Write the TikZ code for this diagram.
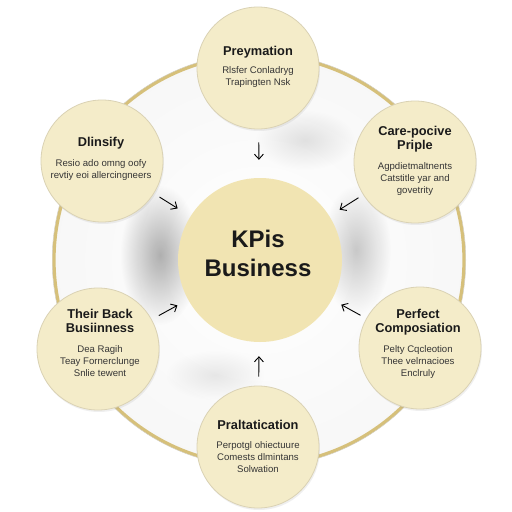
\documentclass[tikz,border=0pt]{standalone}
\usepackage{fontspec}
\setmainfont{Liberation Sans}
\usetikzlibrary{arrows.meta,fadings,shadows}
\definecolor{satfill}{HTML}{F4ECC9}
\definecolor{satline}{HTML}{DAD2B4}
\definecolor{cenfill}{HTML}{F1E4B2}
\definecolor{ringgold}{HTML}{D6C07A}
\definecolor{txtdark}{HTML}{1A1A1A}
\definecolor{txtbody}{HTML}{353535}
\tikzfading[name=softfade, inner color=transparent!0, outer color=transparent!100]
\tikzset{
  sat/.style={circle, fill=satfill, draw=satline, line width=0.8pt, minimum size=122pt, inner sep=0pt,
    drop shadow={opacity=0.12, shadow xshift=1pt, shadow yshift=-2pt}},
  cen/.style={circle, fill=cenfill, minimum size=164pt, inner sep=0pt},
  ttl/.style={font=\fontsize{12.8}{14}\selectfont\bfseries, text=txtdark, align=center, inner sep=0pt},
  bdy/.style={font=\fontsize{9.6}{12}\selectfont, text=txtbody, align=center, inner sep=0pt},
  big/.style={font=\fontsize{24}{29}\selectfont\bfseries, text=txtdark, align=center, inner sep=0pt},
  arr/.style={draw=black, line width=0.9pt, -{Straight Barb[length=5pt,width=9pt]}},
  blob/.style={fill=black, path fading=softfade}
}
\begin{document}
\begin{tikzpicture}[x=1pt,y=-1pt]
\useasboundingbox (0,0) rectangle (512,512);
\fill[white] (0,0) rectangle (512,512);
% ring interior
\shade[inner color=white, outer color=black!3] (259,260) circle[radius=205];
% soft shadows
\fill[blob, opacity=0.30] (160,255) ellipse[x radius=40, y radius=70];
\fill[blob, opacity=0.20] (356,250) ellipse[x radius=35, y radius=65];
\fill[blob, opacity=0.10] (305,140) ellipse[x radius=50, y radius=30];
\fill[blob, opacity=0.08] (215,375) ellipse[x radius=50, y radius=25];
% ring
\draw[ringgold, line width=3.2pt] (259,260) circle[radius=205];
\draw[ringgold!60!black!40, line width=0.4pt] (259,260) circle[radius=206.8];
% center
\node[cen] (c) at (260,260) {};
\node[big] (ctxt) at (258,253) {KPis\\Business};
% satellites
\node[sat] (t) at (258,68) {};
\node[sat] (ul) at (102,161) {};
\node[sat] (ur) at (415,162) {};
\node[sat] (ll) at (98,349) {};
\node[sat] (lr) at (420,348) {};
\node[sat] (b) at (258,447) {};
% texts
\node[ttl] (t1) at (258,52) {Preymation};
\node[bdy] (t2) at (258,77.5) {Rlsfer Conladryg\\Trapingten Nsk};
\node[ttl] (ul1) at (101,143) {Dlinsify};
\node[bdy] (ul2) at (101,170) {Resio ado omng oofy\\revtiy eoi allercingneers};
\node[ttl] (ur1) at (415,139) {Care-pocive\\Priple};
\node[bdy] (ur2) at (415,179) {Agpdietmaltnents\\Catstitle yar and\\govetrity};
\node[ttl] (ll1) at (100,321) {Their Back\\Busiinness};
\node[bdy] (ll2) at (100,361.5) {Dea Ragih\\Teay Fornerclunge\\Snlie tewent};
\node[ttl] (lr1) at (418,322) {Perfect\\Composiation};
\node[bdy] (lr2) at (418,362) {Pelty Cqcleotion\\Thee velrnacioes\\Enclruly};
\node[ttl] (b1) at (258,425) {Praltatication};
\node[bdy] (b2) at (258,457.5) {Perpotgl ohiectuure\\Comests dlmintans\\Solwation};
% arrows
\draw[arr, shorten <=13pt, shorten >=18pt] (t) -- (c);
\draw[arr, shorten <=6.5pt, shorten >=15pt] (ul) -- (c);
\draw[arr, shorten <=5.5pt, shorten >=12pt] (ur) -- (c);
\draw[arr, shorten <=8pt, shorten >=12pt] (ll) -- (c);
\draw[arr, shorten <=6.5pt, shorten >=10.5pt] (lr) -- (c);
\draw[arr, shorten <=9pt, shorten >=14pt] (b) -- (c);
\end{tikzpicture}
\end{document}
